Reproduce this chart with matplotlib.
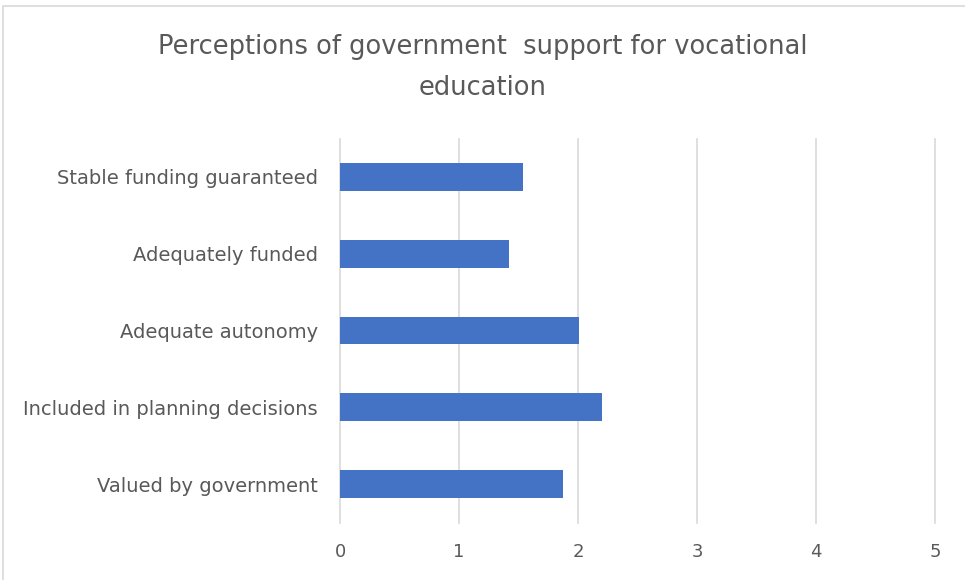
import matplotlib.pyplot as plt
from matplotlib.patches import Rectangle

# data
categories = [
    "Stable funding guaranteed",
    "Adequately funded",
    "Adequate autonomy",
    "Included in planning decisions",
    "Valued by government",
]
scores = [1.54, 1.42, 2.01, 2.2, 1.87]
x_ticks = [0, 1, 2, 3, 4, 5]

plt.rcParams['font.family'] = ['DejaVu Sans']
text_col = '#595959'
bar_col = '#4472C4'
grid_col = '#D9D9D9'

fig = plt.figure(figsize=(9.65, 5.8), dpi=100)
ax = fig.add_axes([340 / 965, 1 - 522.5 / 580, (935 - 340) / 965, (522.5 - 138.5) / 580])

y = list(range(len(categories)))
ax.barh(y, scores, height=0.36, color=bar_col, zorder=3)
ax.set_ylim(len(categories) - 0.5, -0.5)
ax.set_xlim(0, 5)
ax.set_xticks(x_ticks)
ax.set_xticklabels([str(t) for t in x_ticks], fontsize=13, color=text_col)
ax.set_yticks(y)
ax.set_yticklabels(categories, fontsize=14, color=text_col)
ax.tick_params(axis='both', length=0)
ax.tick_params(axis='x', pad=15)
ax.tick_params(axis='y', pad=16)
ax.xaxis.grid(True, color=grid_col, linewidth=1.2, zorder=0)
for gl in ax.get_xgridlines():
    gl.set_clip_on(False)
for s in ax.spines.values():
    s.set_visible(False)

fig.text(0.5, 1 - 47 / 580, "Perceptions of government  support for vocational",
         ha='center', va='center', fontsize=18.5, color=text_col)
fig.text(0.5, 1 - 88 / 580, "education",
         ha='center', va='center', fontsize=18.5, color=text_col)

# chart frame
fig.patches.append(Rectangle((3 / 965, -0.01), 1.0, 1 - 6 / 580 + 0.01,
                             transform=fig.transFigure, fill=False,
                             edgecolor='#D9D9D9', linewidth=1.2))

fig.savefig("out.png", dpi=100)
